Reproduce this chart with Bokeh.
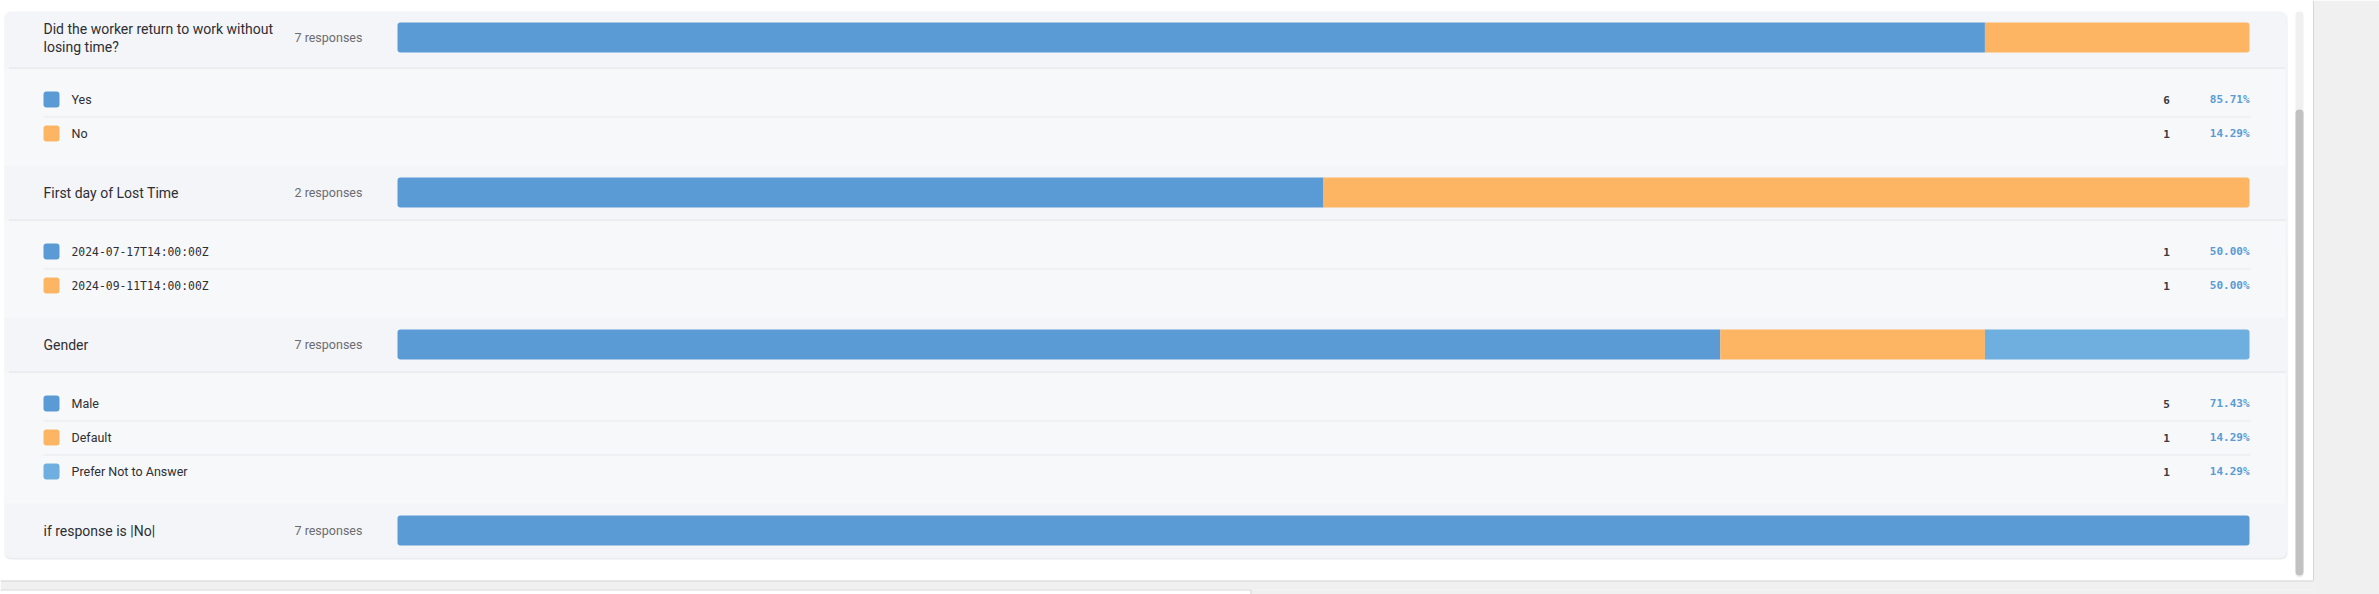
from bokeh.plotting import figure
from bokeh.models import Range1d, ColumnDataSource
from bokeh.core.properties import value
from bokeh.embed import file_html
from bokeh.resources import INLINE

# ---------------- data ----------------
question_lines = [
    ["Did the worker return to work without", "losing time?"],
    ["First day of Lost Time"],
    ["Gender"],
    ["if response is |No|"],
]
response_totals = [7, 2, 7, 7]
option_labels = [
    ["Yes", "No"],
    ["2024-07-17T14:00:00Z", "2024-09-11T14:00:00Z"],
    ["Male", "Default", "Prefer Not to Answer"],
    ["No"],
]
option_counts = [
    [6, 1],
    [1, 1],
    [5, 1, 1],
    [7],
]
legend_visible = [True, True, True, False]
label_monospace = [False, True, False, False]
palette = ["#5a9bd5", "#fdb563", "#6eafdf"]

# ---------------- layout (page pixels) ----------------
W, H = 2379, 594
CARD_L, CARD_R, CARD_T = 4, 2286, 11
BAR_L, BAR_R, BAR_H = 397, 2249, 30
TXT_X, RESP_X = 43, 294
SQ_X, LAB_X, CNT_X, PCT_X = 51, 71, 2166, 2249
ROW_H = 34

HEADER_BG = "#f4f5f8"
BODY_BG = "#f7f8fa"
DIVIDER = "#e0e2e7"
ROW_SEP = "#e8e9ed"

p = figure(width=W, height=H, output_backend="svg", toolbar_location=None,
           x_range=Range1d(0, W), y_range=Range1d(H, 0),
           min_border=0, outline_line_color=None)
p.axis.visible = False
p.grid.visible = False
p.background_fill_color = "#ffffff"
p.border_fill_color = "#ffffff"

# outer window chrome: grey area right and bottom
p.quad(left=[2313], right=[2400], top=[0], bottom=[600], fill_color="#f0f0f0", line_color=None)
p.quad(left=[0], right=[2313], top=[580], bottom=[589], fill_color="#f0f0f0", line_color=None)
p.quad(left=[1250], right=[2313], top=[589], bottom=[600], fill_color="#f0f0f0", line_color=None)
p.segment(x0=[2313], y0=[0], x1=[2313], y1=[580], line_color="#d6d6d6", line_width=1)
p.segment(x0=[0], y0=[580.5], x1=[2313], y1=[580.5], line_color="#d6d6d6", line_width=1)
p.segment(x0=[0], y0=[589.5], x1=[1250], y1=[589.5], line_color="#d6d6d6", line_width=1)
p.segment(x0=[1250.5], y0=[589], x1=[1250.5], y1=[600], line_color="#d6d6d6", line_width=1)
# scrollbar track & thumb
p.quad(left=[2295], right=[2303], top=[11], bottom=[577], fill_color="#f0f0f0", line_color=None, border_radius=4)
p.quad(left=[2295], right=[2303], top=[109], bottom=[575], fill_color="#c1c1c1", line_color=None, border_radius=4)

# compute section geometry
sections = []
y = CARD_T
for i, lines in enumerate(question_lines):
    hh = 54 + 2 * (len(lines) - 1)
    cy = y + 27 - (len(lines) - 1)
    body_top = y + hh
    n = len(option_labels[i]) if legend_visible[i] else 0
    body_h = (30 + ROW_H * n) if n else 0
    sections.append(dict(top=y, hh=hh, cy=cy, body_top=body_top, body_h=body_h, n=n))
    y = body_top + body_h
CARD_B = y

# card with shadow
p.quad(left=[CARD_L], right=[CARD_R + 1], top=[CARD_T + 1], bottom=[CARD_B + 2],
       fill_color="#ebecef", line_color=None, border_radius=6)
p.quad(left=[CARD_L], right=[CARD_R], top=[CARD_T], bottom=[CARD_B],
       fill_color=BODY_BG, line_color=None, border_radius=6)

for i, s in enumerate(sections):
    last = i == len(sections) - 1
    first = i == 0
    rad = (6 if first else 0, 6 if first else 0, 6 if last else 0, 6 if last else 0)
    p.quad(left=[CARD_L], right=[CARD_R], top=[s["top"]], bottom=[s["top"] + s["hh"]],
           fill_color=HEADER_BG, line_color=None, border_radius=rad)
    if s["n"]:
        p.segment(x0=[8], y0=[s["body_top"] + 0.5], x1=[CARD_R - 1], y1=[s["body_top"] + 0.5],
                  line_color=DIVIDER, line_width=1)

    # question text
    lines = question_lines[i]
    nl = len(lines)
    p.text(x=[TXT_X] * nl, y=[s["cy"] + (k - (nl - 1) / 2) * 18 for k in range(nl)], text=lines,
           text_font=value("Roboto"), text_font_size="14px", text_color="#2e2e33",
           text_baseline="middle", text_align="left")
    p.text(x=[RESP_X], y=[s["cy"]], text=[f"{response_totals[i]} responses"],
           text_font=value("Roboto"), text_font_size="12.5px", text_color="#6b6b70",
           text_baseline="middle", text_align="left")

    # stacked bar
    counts = option_counts[i]
    total = sum(counts)
    cum = 0
    nseg = len(counts)
    for k, c in enumerate(counts):
        l = BAR_L + (BAR_R - BAR_L) * cum / total
        cum += c
        r = BAR_L + (BAR_R - BAR_L) * cum / total
        br = (3 if k == 0 else 0, 3 if k == nseg - 1 else 0, 3 if k == nseg - 1 else 0, 3 if k == 0 else 0)
        p.quad(left=[l], right=[r], top=[s["cy"] - BAR_H / 2], bottom=[s["cy"] + BAR_H / 2],
               fill_color=palette[k % len(palette)], line_color=None, border_radius=br)

    # legend rows
    if s["n"]:
        n = s["n"]
        ys = [s["body_top"] + 32 + ROW_H * k for k in range(n)]
        for k in range(n - 1):
            p.segment(x0=[TXT_X], y0=[ys[k] + 17.5], x1=[BAR_R + 1], y1=[ys[k] + 17.5],
                      line_color=ROW_SEP, line_width=1)
        for k in range(n):
            p.quad(left=[SQ_X - 8], right=[SQ_X + 8], top=[ys[k] - 8], bottom=[ys[k] + 8],
                   fill_color=palette[k % len(palette)], line_color=None, border_radius=3)
        src = ColumnDataSource(dict(
            y=ys,
            lab=option_labels[i],
            cnt=[str(c) for c in counts],
            pct=[f"{c / total * 100:.2f}%" for c in counts],
        ))
        if label_monospace[i]:
            p.text(x=LAB_X, y="y", text="lab", source=src, text_font=value("DejaVu Sans Mono"),
                   text_font_size="11.4px", text_color="#2e2e33", text_baseline="middle", text_align="left")
        else:
            p.text(x=LAB_X, y="y", text="lab", source=src, text_font=value("Roboto"),
                   text_font_size="12.5px", text_color="#2e2e33", text_baseline="middle", text_align="left")
        p.text(x=CNT_X, y="y", text="cnt", source=src, text_font=value("DejaVu Sans Mono"),
               text_font_size="11px", text_font_style="bold", text_color="#3a3a3f",
               text_baseline="middle", text_align="center")
        p.text(x=PCT_X, y="y", text="pct", source=src, text_font=value("DejaVu Sans Mono"),
               text_font_size="11px", text_font_style="bold", text_color="#5a9bd5",
               text_baseline="middle", text_align="right")

open("out.html", "w").write(file_html(p, INLINE))
